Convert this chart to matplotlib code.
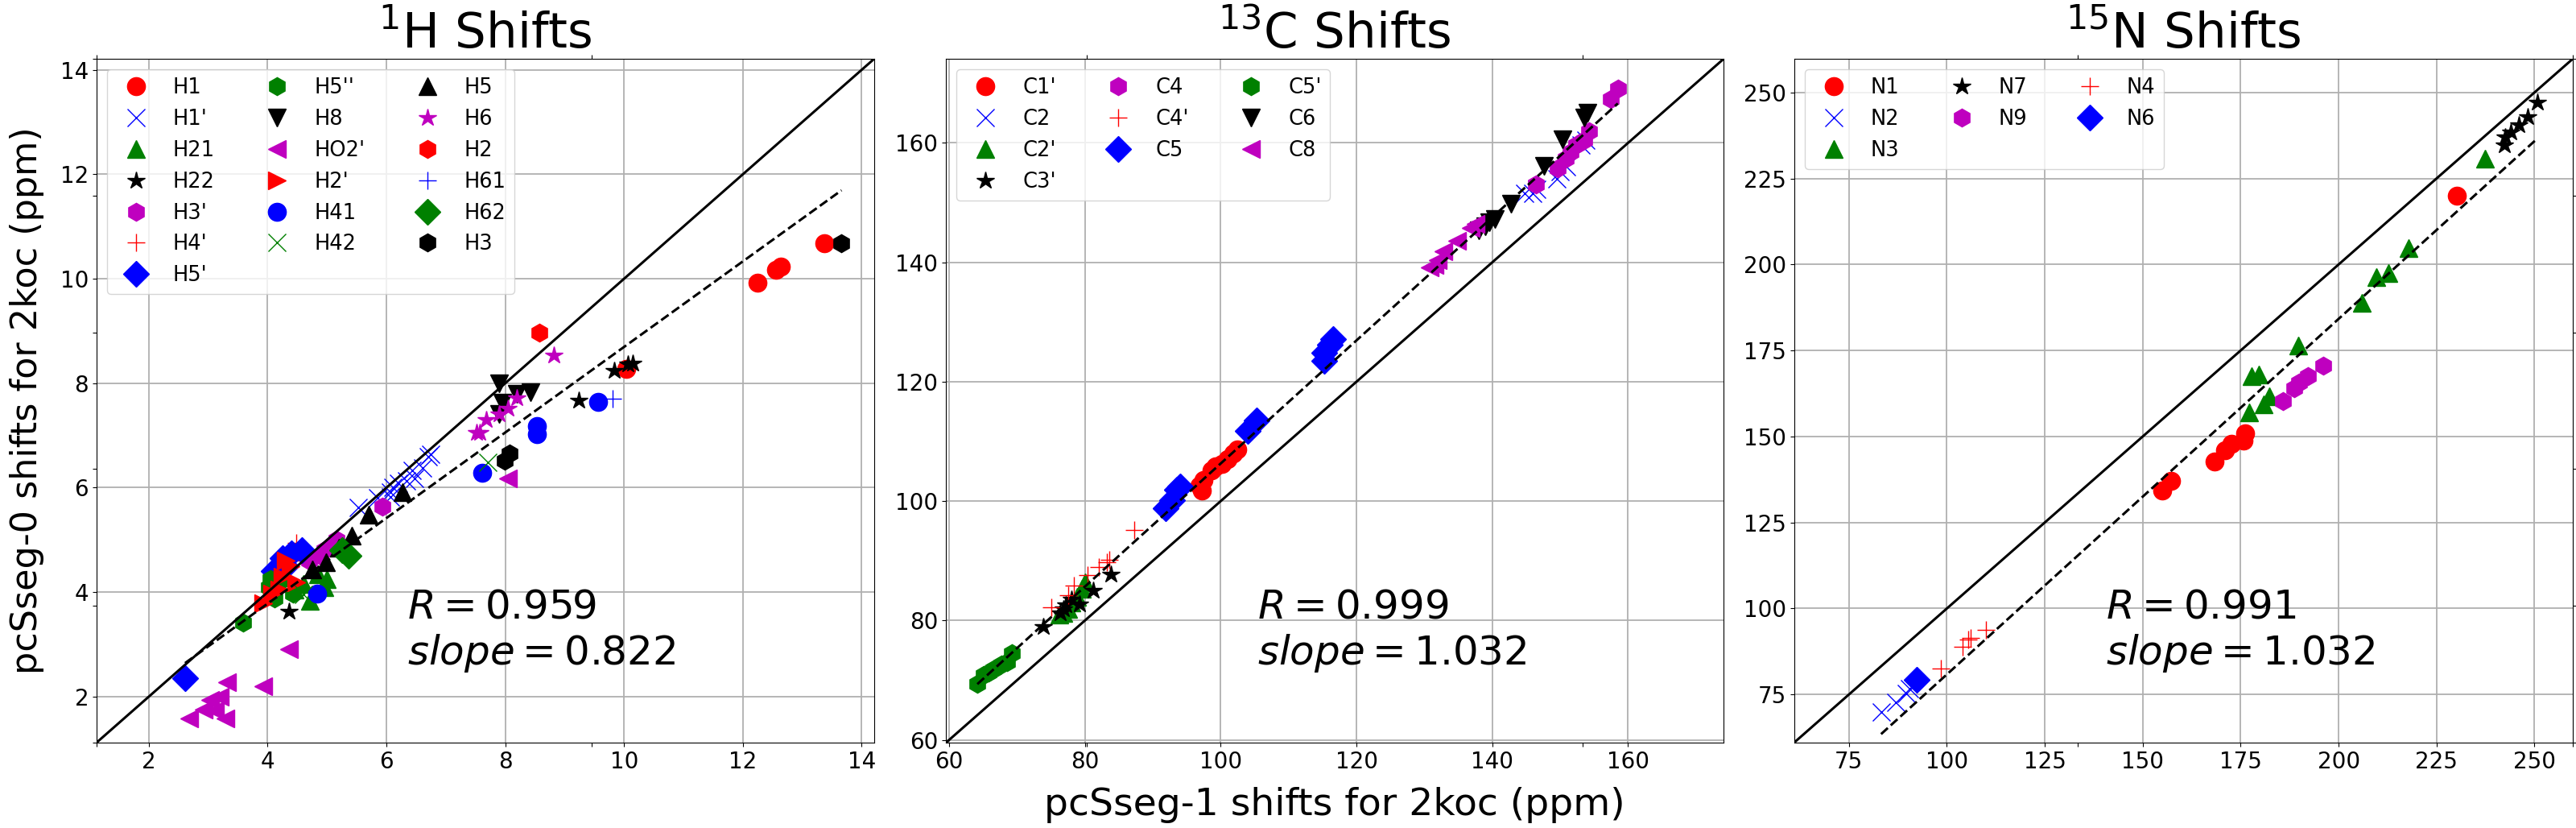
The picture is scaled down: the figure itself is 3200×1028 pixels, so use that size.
import matplotlib
matplotlib.use("Agg")
import matplotlib.pyplot as plt
import numpy as np

# ---------------- 1H panel data (x: pcSseg-1, y: pcSseg-0) ----------------
h_labels = ["H1", "H1'", "H21", "H22", "H3'", "H4'", "H5'", "H5''", "H8", "HO2'",
            "H2'", "H41", "H42", "H5", "H6", "H2", "H61", "H62", "H3"]
H1_x = [13.37, 12.24, 12.56, 12.64, 10.04]
H1_y = [10.68, 9.93, 10.17, 10.23, 8.28]
H1p_x = [5.52, 5.85, 6.07, 6.11, 6.20, 6.07, 6.34, 6.48, 6.43, 6.61, 6.70, 6.75]
H1p_y = [5.62, 5.80, 5.92, 6.00, 6.08, 5.82, 6.13, 6.18, 6.33, 6.38, 6.59, 6.64]
H21_x = [4.71, 5.00, 4.85, 4.45, 4.60, 4.95]
H21_y = [3.83, 4.25, 4.35, 4.05, 4.15, 4.10]
H22_x = [4.36, 9.24, 9.84, 10.06, 10.15]
H22_y = [3.64, 7.68, 8.24, 8.36, 8.38]
H3p_x = [5.93, 5.16, 4.89, 5.05, 4.70, 4.95]
H3p_y = [5.64, 5.00, 4.70, 4.85, 4.60, 4.80]
H4p_x = [4.48, 4.30, 4.20, 4.40]
H4p_y = [4.95, 4.70, 4.50, 4.60]
H5p_x = [2.61, 4.57, 4.25, 4.40, 4.30, 4.10]
H5p_y = [2.35, 4.80, 4.65, 4.75, 4.50, 4.40]
H5pp_x = [3.59, 4.02, 4.11, 4.43, 4.20, 4.05]
H5pp_y = [3.41, 4.09, 3.88, 3.98, 4.20, 4.25]
H8_x = [7.89, 8.43, 8.20, 7.95, 7.89]
H8_y = [8.00, 7.82, 7.80, 7.62, 7.41]
HO2p_x = [4.36, 3.93, 3.32, 3.03, 2.93, 2.68, 3.29, 3.11, 3.20, 8.04]
HO2p_y = [2.91, 2.20, 2.27, 1.94, 1.76, 1.58, 1.58, 1.74, 2.00, 6.17]
H2p_x = [3.93, 4.07, 4.25, 4.39, 4.48, 4.30, 4.20]
H2p_y = [3.78, 3.98, 4.29, 4.49, 4.19, 4.60, 4.05]
H41_x = [4.84, 7.61, 8.53, 8.53, 9.56]
H41_y = [3.98, 6.28, 7.18, 7.03, 7.64]
H42_x = [7.70, 4.60]
H42_y = [6.48, 3.95]
H5_x = [4.75, 4.98, 5.20, 5.41, 5.70, 6.27]
H5_y = [4.44, 4.57, 4.85, 5.08, 5.49, 5.92]
H6_x = [8.82, 7.57, 7.52, 7.68, 7.89, 8.05, 8.20]
H6_y = [8.54, 7.06, 7.05, 7.31, 7.41, 7.52, 7.72]
H2_x = [8.58]
H2_y = [8.97]
H61_x = [9.81]
H61_y = [7.70]
H62_x = [5.36, 5.25]
H62_y = [4.70, 4.80]
H3_x = [13.66, 8.07, 7.99]
H3_y = [10.68, 6.66, 6.51]
h_x = [H1_x, H1p_x, H21_x, H22_x, H3p_x, H4p_x, H5p_x, H5pp_x, H8_x, HO2p_x,
       H2p_x, H41_x, H42_x, H5_x, H6_x, H2_x, H61_x, H62_x, H3_x]
h_y = [H1_y, H1p_y, H21_y, H22_y, H3p_y, H4p_y, H5p_y, H5pp_y, H8_y, HO2p_y,
       H2p_y, H41_y, H42_y, H5_y, H6_y, H2_y, H61_y, H62_y, H3_y]

# ---------------- 13C panel data ----------------
c_labels = ["C1'", "C2", "C2'", "C3'", "C4", "C4'", "C5", "C5'", "C6", "C8"]
C1p_x = [96.9, 97.2, 97.5, 98.6, 99.3, 100.2, 101.0, 101.9, 102.4]
C1p_y = [102.6, 101.8, 103.5, 105.1, 105.8, 106.2, 107.0, 108.0, 108.7]
C2_x = [144.8, 146.0, 146.5, 149.5, 150.0, 151.0, 153.1, 153.8]
C2_y = [151.6, 151.6, 152.3, 154.0, 155.2, 156.0, 159.7, 160.5]
C2p_x = [76.3, 76.8, 77.5, 78.0, 78.8, 79.6, 80.0]
C2p_y = [81.0, 81.3, 82.0, 83.0, 84.0, 85.3, 86.4]
C3p_x = [73.9, 76.4, 76.8, 77.2, 78.0, 79.2, 81.2, 83.8]
C3p_y = [79.0, 81.3, 82.0, 82.6, 83.5, 82.8, 85.1, 87.8]
C4_x = [146.4, 149.6, 150.8, 151.5, 152.4, 153.5, 154.3, 157.5, 158.5]
C4_y = [153.0, 155.7, 157.4, 158.5, 159.7, 160.5, 161.9, 167.3, 169.1]
C4p_x = [75.0, 77.6, 78.4, 80.4, 82.0, 83.2, 83.6, 87.3]
C4p_y = [82.2, 84.2, 85.8, 87.6, 88.9, 89.8, 90.2, 95.2]
C5_x = [91.9, 92.8, 93.6, 94.0, 104.0, 105.3, 115.3, 115.3, 116.1, 116.6]
C5_y = [98.8, 100.2, 101.9, 102.4, 111.8, 113.5, 123.5, 124.8, 126.2, 127.1]
C5p_x = [64.16, 65.15, 65.8, 66.5, 67.7, 68.5, 69.3]
C5p_y = [69.35, 70.9, 71.3, 71.8, 72.7, 73.0, 74.5]
C6_x = [138.0, 139.0, 139.6, 140.4, 142.8, 147.6, 150.4, 153.5, 154.0]
C6_y = [145.4, 146.0, 146.7, 147.2, 149.8, 156.1, 160.6, 164.2, 165.1]
C8_x = [130.8, 131.5, 132.0, 132.8, 134.8, 136.8, 137.5]
C8_y = [139.1, 139.5, 140.4, 141.8, 143.6, 145.8, 146.5]
c_x = [C1p_x, C2_x, C2p_x, C3p_x, C4_x, C4p_x, C5_x, C5p_x, C6_x, C8_x]
c_y = [C1p_y, C2_y, C2p_y, C3p_y, C4_y, C4p_y, C5_y, C5p_y, C6_y, C8_y]

# ---------------- 15N panel data ----------------
n_labels = ["N1", "N2", "N3", "N7", "N9", "N4", "N6"]
N1_x = [154.9, 157.3, 168.4, 171.0, 172.7, 175.8, 176.1, 230.1]
N1_y = [134.3, 137.0, 142.7, 146.0, 147.8, 148.7, 151.0, 220.1]
N2_x = [83.2, 86.9, 89.6, 90.5]
N2_y = [69.8, 72.8, 75.3, 76.7]
N3_x = [177.1, 180.8, 182.3, 177.8, 179.7, 189.7, 205.9, 209.6, 212.8, 217.9, 237.3]
N3_y = [157.1, 159.4, 161.7, 167.6, 168.0, 176.5, 188.9, 196.3, 197.5, 204.8, 230.8]
N7_x = [242.3, 242.5, 243.9, 246.0, 248.3, 250.8]
N7_y = [234.7, 237.0, 238.6, 240.5, 242.9, 247.1]
N9_x = [185.8, 188.6, 190.0, 192.1, 196.0]
N9_y = [160.2, 164.1, 165.7, 167.6, 170.7]
N4_x = [98.4, 104.0, 105.4, 106.0, 109.9]
N4_y = [82.5, 88.9, 90.9, 91.5, 93.7]
N6_x = [92.4]
N6_y = [79.2]
n_x = [N1_x, N2_x, N3_x, N7_x, N9_x, N4_x, N6_x]
n_y = [N1_y, N2_y, N3_y, N7_y, N9_y, N4_y, N6_y]

# fit lines and statistics
fit_slope = [0.819, 1.031, 1.0334]
fit_icept = [0.505, 3.2, -22.5]
r_text = ["0.959", "0.999", "0.991"]
slope_text = ["0.822", "1.032", "1.032"]
titles = [r"$^{1}$H Shifts", r"$^{13}$C Shifts", r"$^{15}$N Shifts"]
limits = [(1.12, 14.21), (59.55, 174.1), (61.0, 259.8)]
tick_sets = [np.arange(2, 15, 2), np.arange(60, 161, 20), np.arange(75, 251, 25)]

markers = ['o', 'x', '^', '*', 'h', '+', 'D', 'h', 'v', '<', '>']
colors = ['r', 'b', 'g', 'k', 'm']

fig = plt.figure(figsize=(32, 10.28), dpi=100)

# background axes carrying the common labels (ticks only, no tick labels)
big = fig.add_axes([0.03747, 0.1031, 0.96128, 0.8259], frameon=False)
big.tick_params(top=True, right=True, labelbottom=False, labelleft=False)
big.set_xlabel("pcSseg-1 shifts for 2koc (ppm)", fontsize=34)
big.set_ylabel("pcSseg-0 shifts for 2koc (ppm)", fontsize=32)
big.xaxis.set_label_coords(0.5, -0.0648)
big.yaxis.set_label_coords(-0.0211, 0.5)

rects = [[0.03747, 0.1031, 0.3019, 0.8259],
         [0.36725, 0.1031, 0.3019, 0.8259],
         [0.69647, 0.1031, 0.3023, 0.8259]]
panels = [(h_labels, h_x, h_y), (c_labels, c_x, c_y), (n_labels, n_x, n_y)]

for k, (labs, xs, ys) in enumerate(panels):
    ax = fig.add_axes(rects[k])
    for i, lab in enumerate(labs):
        ax.plot(xs[i], ys[i], linestyle='none', marker=markers[i % len(markers)],
                color=colors[i % len(colors)], ms=16, label=lab)
    lo, hi = limits[k]
    ax.plot([lo, hi], [lo, hi], 'k-', lw=2.2)
    allx = np.concatenate([np.asarray(v, float) for v in xs])
    xr = np.array([allx.min(), allx.max()])
    ax.plot(xr, fit_slope[k] * xr + fit_icept[k], 'k--', lw=2.2)
    ax.set_xlim(lo, hi)
    ax.set_ylim(lo, hi)
    ax.set_xticks(tick_sets[k])
    ax.set_yticks(tick_sets[k])
    ax.tick_params(labelsize=20)
    ax.grid(True, color='#b0b0b0', lw=1.3)
    ax.set_title(titles[k], fontsize=44)
    ax.text(0.40, 0.10, r"$R = %s$" % r_text[k] + "\n" + r"$slope = %s$" % slope_text[k],
            transform=ax.transAxes, fontsize=36, va='bottom', ha='left')
    ax.legend(loc='upper left', ncol=3, fontsize=18.5)

fig.savefig("out.png", dpi=100)
